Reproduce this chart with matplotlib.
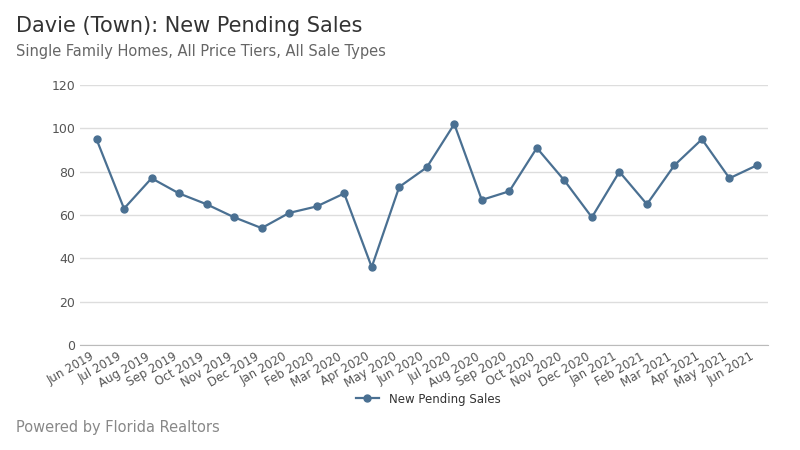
import matplotlib.pyplot as plt

months = ["Jun 2019", "Jul 2019", "Aug 2019", "Sep 2019", "Oct 2019", "Nov 2019", "Dec 2019",
          "Jan 2020", "Feb 2020", "Mar 2020", "Apr 2020", "May 2020", "Jun 2020", "Jul 2020",
          "Aug 2020", "Sep 2020", "Oct 2020", "Nov 2020", "Dec 2020", "Jan 2021", "Feb 2021",
          "Mar 2021", "Apr 2021", "May 2021", "Jun 2021"]
pending = [95, 63, 77, 70, 65, 59, 54, 61, 64, 70, 36, 73, 82, 102, 67, 71, 91, 76, 59, 80, 65, 83, 95, 77, 83]
yticks = [0, 20, 40, 60, 80, 100, 120]

color = "#4a7092"
fig = plt.figure(figsize=(8, 4.5), dpi=100)
ax = fig.add_axes([0.1, 0.233, 0.86, 0.578])
x = range(len(months))
ax.plot(x, pending, color=color, lw=1.6, marker="o", ms=5, label="New Pending Sales")
ax.set_ylim(0, 120)
ax.set_xlim(-0.6, len(months) - 0.6)
ax.set_yticks(yticks)
ax.set_xticks(list(x))
ax.set_xticklabels(months, rotation=30, ha="right", fontsize=8.5, color="#555555")
ax.tick_params(axis="y", labelsize=9, colors="#555555", length=0)
ax.tick_params(axis="x", length=0)
ax.grid(axis="y", color="#dddddd", lw=1)
for s in ["top", "right", "left"]:
    ax.spines[s].set_visible(False)
ax.spines["bottom"].set_color("#bbbbbb")
ax.set_axisbelow(True)

fig.text(0.02, 0.93, "Davie (Town): New Pending Sales", fontsize=15, color="#333333")
fig.text(0.02, 0.875, "Single Family Homes, All Price Tiers, All Sale Types", fontsize=10.5, color="#666666")
fig.text(0.02, 0.04, "Powered by Florida Realtors", fontsize=10.5, color="#888888")
fig.legend(loc="lower center", bbox_to_anchor=(0.535, 0.075), frameon=False, fontsize=8.5,
           labelcolor="#333333")
fig.savefig("out.png")
